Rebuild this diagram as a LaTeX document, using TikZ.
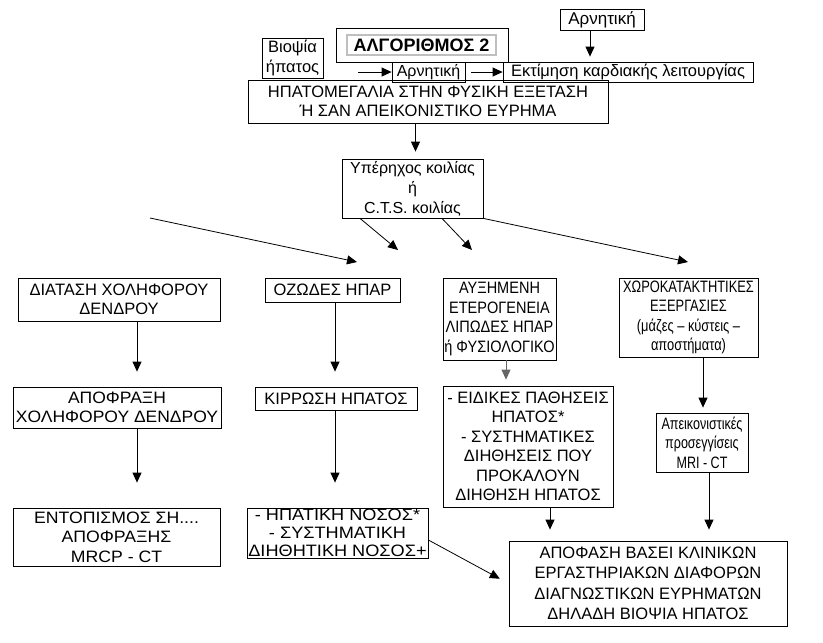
\documentclass[tikz,border=0pt]{standalone}
\usepackage{fontspec}
\setmainfont{Liberation Sans}
\usepackage{tikz}
\usetikzlibrary{arrows.meta}

\begin{document}
\begin{tikzpicture}[x=1pt, y=-1pt,
	box/.style={draw, line width=0.8pt, inner sep=0pt, align=center, font=\fontsize{16.5}{19.5}\selectfont},
	hscale/.style={font=\fontsize{16.5}{19.5}\selectfont\addfontfeatures{FakeStretch=#1}},
	arr/.style={-{Triangle[width=9pt,length=10pt]}, line width=0.8pt}]
	
	% Page frame
	\useasboundingbox (0,0) rectangle (823,643);
	
	% Top boxes
	\node[box, minimum width=84, minimum height=21, font=\fontsize{17}{19.5}\selectfont] (negTop) at (602,19.5) {Αρνητική};
	\node[box, minimum width=172, minimum height=34] (title) at (422,45) {};
	\node[box, draw=gray!50, line width=1.4pt, minimum width=149, minimum height=20, font=\bfseries\fontsize{18}{18}\selectfont] (titleText) at (421.5,45) {ΑΛΓΟΡΙΘΜΟΣ 2};
	\node[box, minimum width=61, minimum height=40] (biopsy) at (292.5,58) {Βιοψία\\ήπατος};
	\node[box, minimum width=73, minimum height=20, font=\fontsize{16}{19.5}\selectfont] (negMid) at (428.5,72) {Αρνητική};
	\node[box, minimum width=250, minimum height=20] (cardiac) at (628,72) {Εκτίμηση καρδιακής λειτουργίας};
	\node[box, minimum width=360, minimum height=43, font=\fontsize{16.5}{19}\selectfont] (hepatomegaly) at (428,101.5) {ΗΠΑΤΟΜΕΓΑΛΙΑ ΣΤΗΝ ΦΥΣΙΚΗ ΕΞΕΤΑΣΗ\\Ή ΣΑΝ ΑΠΕΙΚΟΝΙΣΤΙΚΟ ΕΥΡΗΜΑ};
	\node[box, minimum width=141, minimum height=59, font=\fontsize{16}{20}\selectfont] (ultrasound) at (412.5,188.5) {Υπέρηχος κοιλίας\\ή\\C.T.S. κοιλίας};
	
	% Findings
	\node[box, minimum width=202, minimum height=43] (dilation) at (119,299.5) {ΔΙΑΤΑΣΗ ΧΟΛΗΦΟΡΟΥ\\ΔΕΝΔΡΟΥ};
	\node[box, minimum width=135, minimum height=24] (nodular) at (332.5,290) {ΟΖΩΔΕΣ ΗΠΑΡ};
	\node[box, hscale=0.88, minimum width=113, minimum height=82] (heterog) at (499.5,319) {ΑΥΞΗΜΕΝΗ\\ΕΤΕΡΟΓΕΝΕΙΑ\\ΛΙΠΩΔΕΣ ΗΠΑΡ\\ή ΦΥΣΙΟΛΟΓΙΚΟ};
	\node[box, hscale=0.78, minimum width=139, minimum height=79] (lesions) at (688.5,317.5) {ΧΩΡΟΚΑΤΑΚΤΗΤΙΚΕΣ\\ΕΞΕΡΓΑΣΙΕΣ\\(μάζες – κύστεις –\\αποστήματα)};
	
	% Second level
	\node[box, hscale=1.06, minimum width=208, minimum height=41] (obstruction) at (117,407.5) {ΑΠΟΦΡΑΞΗ\\ΧΟΛΗΦΟΡΟΥ ΔΕΝΔΡΟΥ};
	\node[box, minimum width=162, minimum height=23] (cirrhosis) at (336,398.5) {ΚΙΡΡΩΣΗ ΗΠΑΤΟΣ};
	\node[box, minimum width=170, minimum height=121] (specific) at (528,446.5) {- ΕΙΔΙΚΕΣ ΠΑΘΗΣΕΙΣ\\ΗΠΑΤΟΣ*\\- ΣΥΣΤΗΜΑΤΙΚΕΣ\\ΔΙΗΘΗΣΕΙΣ ΠΟΥ\\ΠΡΟΚΑΛΟΥΝ\\ΔΙΗΘΗΣΗ ΗΠΑΤΟΣ};
	\node[box, hscale=0.76, minimum width=92, minimum height=59] (imaging) at (702,442.5) {Απεικονιστικές\\προσεγγίσεις\\MRI - CT};
	
	% Bottom level
	\node[box, hscale=1.07, minimum width=207, minimum height=58] (localize) at (116.5,537) {ΕΝΤΟΠΙΣΜΟΣ ΣΗ....\\ΑΠΟΦΡΑΞΗΣ\\MRCP - CT};
	\node[box, minimum width=181, minimum height=50, font=\fontsize{16.5}{18}\selectfont\addfontfeatures{FakeStretch=1.1}] (liverdis) at (337.5,533) {- ΗΠΑΤΙΚΗ ΝΟΣΟΣ*\\- ΣΥΣΤΗΜΑΤΙΚΗ\\ΔΙΗΘΗΤΙΚΗ ΝΟΣΟΣ+};
	\node[box, minimum width=278, minimum height=85, font=\fontsize{16.5}{20.5}\selectfont] (decision) at (648,583.5) {ΑΠΟΦΑΣΗ ΒΑΣΕΙ ΚΛΙΝΙΚΩΝ\\ΕΡΓΑΣΤΗΡΙΑΚΩΝ ΔΙΑΦΟΡΩΝ\\ΔΙΑΓΝΩΣΤΙΚΩΝ ΕΥΡΗΜΑΤΩΝ\\ΔΗΛΑΔΗ ΒΙΟΨΙΑ ΗΠΑΤΟΣ};
	
	% Free ends
	\coordinate (biopsyIn) at (358,72);
	\coordinate (leftIn) at (150,218);
	\coordinate (tipNod) at (357,262);
	\coordinate (tipA) at (398,250);
	\coordinate (tipB) at (472,250);
	\coordinate (tipLes) at (688,262);
	
	% Draw arrows at the top
	\draw[arr, shorten >=5pt] ([xshift=-12pt]negTop.south) -- ([xshift=-12pt]negTop.south |- cardiac.north);
	\draw[arr] (biopsyIn) -- (negMid.west);
	\draw[arr, shorten <=6pt] (negMid.east) -- (cardiac.west);
	\draw[arr, shorten >=7pt] ([xshift=3pt]ultrasound.north |- hepatomegaly.south) -- ([xshift=3pt]ultrasound.north);
	
	% Draw arrows from the ultrasound
	\draw[arr] (leftIn) -- (tipNod);
	\draw[arr] ([xshift=-52.5pt]ultrasound.south) -- (tipA);
	\draw[arr] ([xshift=29.5pt]ultrasound.south) -- (tipB);
	\draw[arr] (ultrasound.south east) -- (tipLes);
	
	% Draw vertical arrows
	\draw[arr, shorten >=15pt] ([xshift=18pt]dilation.south) -- ([xshift=18pt]dilation.south |- obstruction.north);
	\draw[arr, shorten >=15pt] ([xshift=2.5pt]nodular.south) -- ([xshift=2.5pt]nodular.south |- cirrhosis.north);
	\draw[arr, draw=black!60, fill=black, shorten >=6pt] ([xshift=6.5pt]heterog.south) -- ([xshift=6.5pt]heterog.south |- specific.north);
	\draw[arr, shorten >=5pt] ([xshift=14.5pt]lesions.south) -- ([xshift=14.5pt]lesions.south |- imaging.north);
	\draw[arr, shorten >=25pt] ([xshift=20pt]obstruction.south) -- ([xshift=20pt]obstruction.south |- localize.north);
	\draw[arr, shorten >=25pt] ([xshift=-1pt]cirrhosis.south) -- ([xshift=-1pt]cirrhosis.south |- liverdis.north);
	\draw[arr, shorten >=11pt] ([xshift=22pt]specific.south) -- ([xshift=22pt]specific.south |- decision.north);
	\draw[arr, shorten >=11pt] ([xshift=7pt]imaging.south) -- ([xshift=7pt]imaging.south |- decision.north);
	\draw[arr, shorten >=10pt] ([yshift=-7pt]liverdis.east) -- (decision.west);
	
\end{tikzpicture}
\end{document}
